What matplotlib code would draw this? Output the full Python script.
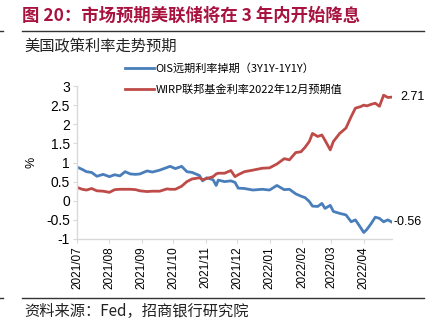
import numpy as np
import pandas as pd
import matplotlib
matplotlib.use("Agg")
from matplotlib import pyplot as plt
import matplotlib.dates as mdates
from matplotlib.lines import Line2D

plt.rcParams['font.family'] = ['Noto Sans CJK SC', 'DejaVu Sans']

# 数据
dates = ["2021-07-01", "2021-07-06", "2021-07-10", "2021-07-15", "2021-07-20", "2021-07-26",
         "2021-08-01", "2021-08-06", "2021-08-11", "2021-08-16", "2021-08-21", "2021-08-26",
         "2021-08-30", "2021-09-06", "2021-09-11", "2021-09-18", "2021-09-25", "2021-09-28",
         "2021-10-03", "2021-10-09", "2021-10-14", "2021-10-19", "2021-10-26", "2021-10-29",
         "2021-11-02", "2021-11-08", "2021-11-11", "2021-11-13", "2021-11-19", "2021-11-25",
         "2021-11-29", "2021-12-02", "2021-12-08", "2021-12-16", "2021-12-25", "2022-01-01",
         "2022-01-08", "2022-01-15", "2022-01-20", "2022-01-26", "2022-01-31", "2022-02-04",
         "2022-02-08", "2022-02-11", "2022-02-16", "2022-02-20", "2022-02-23", "2022-02-28",
         "2022-03-03", "2022-03-09", "2022-03-15", "2022-03-20", "2022-03-24", "2022-03-29",
         "2022-04-01", "2022-04-04", "2022-04-08", "2022-04-12", "2022-04-16", "2022-04-20",
         "2022-04-24", "2022-04-28"]
ois = [0.88, 0.82, 0.76, 0.74, 0.64, 0.69,
       0.63, 0.68, 0.65, 0.76, 0.70, 0.69,
       0.70, 0.78, 0.75, 0.80, 0.87, 0.90,
       0.84, 0.90, 0.76, 0.74, 0.66, 0.52,
       0.60, 0.55, 0.40, 0.54, 0.50, 0.52,
       0.48, 0.33, 0.32, 0.28, 0.30, 0.28,
       0.40, 0.29, 0.30, 0.18, 0.12, 0.08,
       -0.02, -0.14, -0.15, -0.07, -0.20, -0.12,
       -0.28, -0.33, -0.37, -0.55, -0.50, -0.70,
       -0.83, -0.75, -0.60, -0.43, -0.46, -0.55,
       -0.50, -0.56]
wirp = [0.35, 0.30, 0.28, 0.32, 0.26, 0.25,
        0.22, 0.29, 0.30, 0.30, 0.30, 0.29,
        0.26, 0.24, 0.25, 0.25, 0.31, 0.30,
        0.30, 0.38, 0.50, 0.57, 0.60, 0.55,
        0.58, 0.63, 0.70, 0.72, 0.72, 0.79,
        0.63, 0.68, 0.76, 0.80, 0.85, 0.86,
        0.96, 1.10, 1.07, 1.26, 1.28, 1.40,
        1.55, 1.76, 1.68, 1.72, 1.58, 1.33,
        1.55, 1.76, 1.90, 2.20, 2.42, 2.46,
        2.50, 2.48, 2.52, 2.55, 2.47, 2.76,
        2.70, 2.71]
ois_label = "OIS远期利率掉期（3Y1Y-1Y1Y）"
wirp_label = "WIRP联邦基金利率2022年12月预期值"
month_ticks = ["2021-07-01", "2021-08-01", "2021-09-01", "2021-10-01", "2021-11-01",
               "2021-12-01", "2022-01-01", "2022-02-01", "2022-03-01", "2022-04-01"]

x = pd.to_datetime(dates)
blue = '#4A7EBB'
red = '#BE4B48'

fig = plt.figure(figsize=(4.38, 3.27), dpi=100)
ax = fig.add_axes([77/438, 1-239/327, (392-77)/438, (239-86)/327])

ax.plot(x, ois, color=blue, lw=2, label=ois_label)
ax.plot(x, wirp, color=red, lw=2, label=wirp_label)

ax.set_xlim(x[0], x[-1])
ax.set_ylim(-1, 3)
ax.set_yticks(np.arange(-1, 3.01, 0.5))
ax.set_yticklabels(['-1', '-0.5', '0', '0.5', '1', '1.5', '2', '2.5', '3'],
                   family=['Liberation Sans'], fontsize=10)
ax.set_xticks(pd.to_datetime(month_ticks))
ax.xaxis.set_major_formatter(mdates.DateFormatter('%Y/%m'))
for lab in ax.get_xticklabels():
    lab.set_rotation(90)
    lab.set_family(['Liberation Sans'])
    lab.set_fontsize(8.5)
ax.tick_params(axis='both', length=3, width=0.8, color='#d9d9d9', pad=2)
for s in ['top', 'right']:
    ax.spines[s].set_visible(False)
for s in ['left', 'bottom']:
    ax.spines[s].set_color('#d9d9d9')
    ax.spines[s].set_linewidth(1)
ax.set_ylabel('%', fontsize=9, labelpad=6, family=['Liberation Sans'])

# 末值标注
ax.annotate(f"{wirp[-1]:.2f}", (x[-1], wirp[-1]), xytext=(6, 0), textcoords='offset points',
            va='center', ha='left', fontsize=9, family=['Liberation Sans'])
ax.annotate(f"{ois[-1]:.2f}", (x[-1], ois[-1]), xytext=(1, 0), textcoords='offset points',
            va='center', ha='left', fontsize=9, family=['Liberation Sans'])

leg = ax.legend(loc='upper left', bbox_to_anchor=(125/438, 1-63/327), bbox_transform=fig.transFigure,
                frameon=False, fontsize=8, handlelength=2.6, handletextpad=0.15,
                labelspacing=0.95, borderpad=0, borderaxespad=0)

# 标题与来源
fig.text(22/438, 1-16/327, "图 20：市场预期美联储将在 3 年内开始降息", color='#A8123E',
         fontsize=12.5, fontweight='bold', va='center', ha='left')
fig.text(24/438, 1-46/327, "美国政策利率走势预期", fontsize=11, va='center', ha='left', color='#222222')
fig.text(24/438, 1-311/327, "资料来源：Fed，招商银行研究院", fontsize=11, va='center', ha='left', color='#222222')
for yy in [31, 298]:
    fig.add_artist(Line2D([22/438, 424/438], [1-yy/327, 1-yy/327], color='#333333', lw=1))
    fig.add_artist(Line2D([0, 3/438], [1-yy/327, 1-yy/327], color='#333333', lw=1))

fig.savefig('out.png', dpi=100)
